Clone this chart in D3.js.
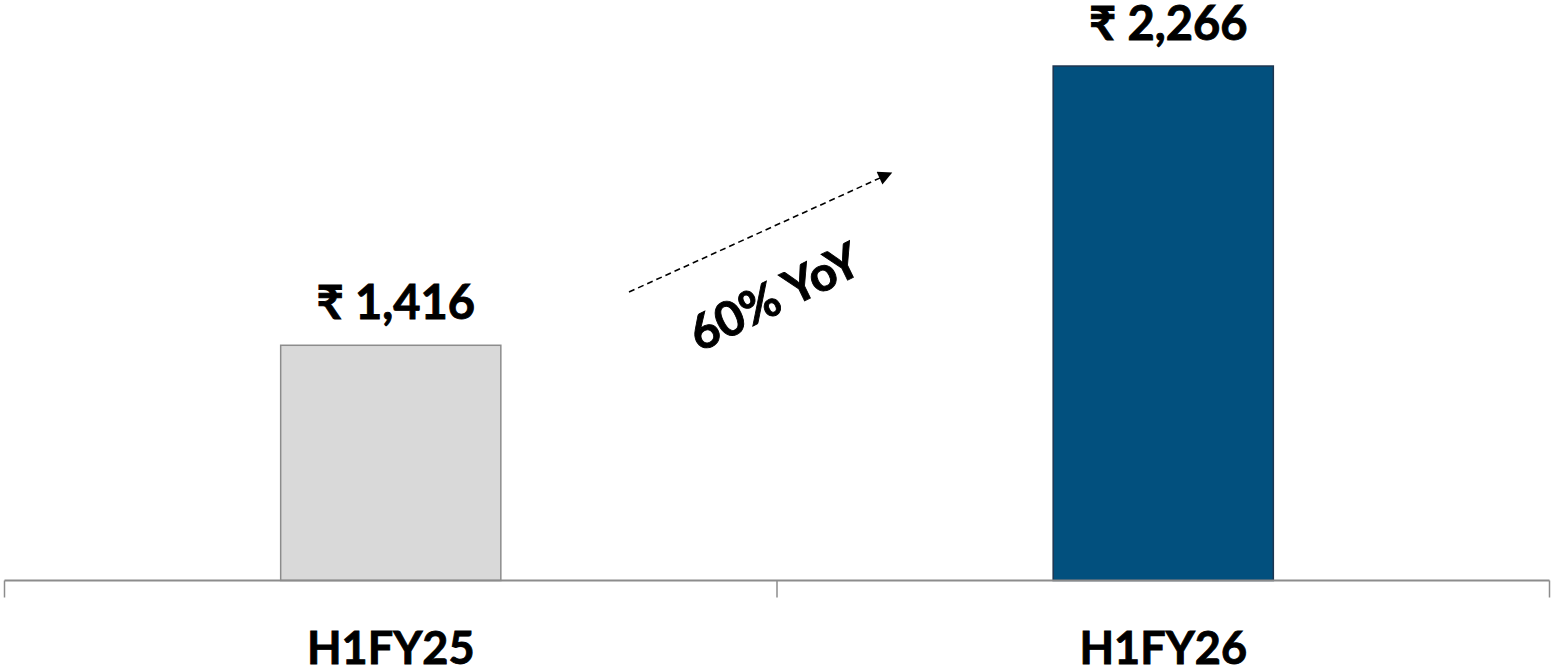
<!DOCTYPE html>
<html>
<head>
<meta charset="utf-8">
<script src="https://cdn.jsdelivr.net/npm/d3@7"></script>
<style>
  html, body { margin: 0; padding: 0; background: #fff; }
  svg text { font-family: Lato, "Noto Sans", "DejaVu Sans", sans-serif; font-weight: 700; fill: #000; stroke: #000; stroke-width: 0.9px; }
</style>
</head>
<body>
<svg id="chart" width="1555" height="671"></svg>
<script>
// Half-year revenue (₹ crore)
const categories = ["H1FY25", "H1FY26"];
const values = [1416, 2266];
const valueLabels = ["₹ 1,416", "₹ 2,266"];
const growthLabel = "60% YoY";

const fills = ["#d9d9d9", "#02507e"];
const strokes = ["#8c8c8c", "#1d3550"];

const svg = d3.select("#chart");
const baseY = 580.5;

const x = d3.scaleBand()
  .domain(categories)
  .range([4.5, 1549.5])
  .paddingInner(0.715)
  .paddingOuter(0.3575);

// The value axis does not start at zero
const y = d3.scaleLinear()
  .domain([700, 2400])
  .range([baseY, 22]);

// Bars
svg.selectAll("rect.bar")
  .data(values)
  .join("rect")
  .attr("class", "bar")
  .attr("x", (d, i) => x(categories[i]))
  .attr("y", d => y(d))
  .attr("width", x.bandwidth())
  .attr("height", d => baseY - y(d))
  .attr("fill", (d, i) => fills[i])
  .attr("stroke", (d, i) => strokes[i])
  .attr("stroke-width", 1.5);

// Category axis with boundary ticks
const boundaries = [0, 1, 2].map(k => 4.5 + k * (1545 / 2));
svg.append("line")
  .attr("x1", boundaries[0]).attr("x2", boundaries[2])
  .attr("y1", baseY).attr("y2", baseY)
  .attr("stroke", "#8c8c8c").attr("stroke-width", 2);
svg.selectAll("line.tick")
  .data(boundaries)
  .join("line")
  .attr("class", "tick")
  .attr("x1", d => d).attr("x2", d => d)
  .attr("y1", baseY).attr("y2", baseY + 17)
  .attr("stroke", "#8c8c8c").attr("stroke-width", 1.5);

svg.selectAll("text.cat")
  .data(categories)
  .join("text")
  .attr("class", "cat")
  .attr("x", d => x(d) + x.bandwidth() / 2)
  .attr("y", 664)
  .attr("text-anchor", "middle")
  .attr("font-size", 45)
  .text(d => d);

// Value labels above bars
svg.selectAll("text.val")
  .data(values)
  .join("text")
  .attr("class", "val")
  .attr("x", (d, i) => x(categories[i]) + x.bandwidth() / 2 + 5)
  .attr("y", d => y(d) - 26)
  .attr("text-anchor", "middle")
  .attr("font-size", 47)
  .text((d, i) => valueLabels[i]);

// Growth arrow between the bars
const defs = svg.append("defs");
defs.append("marker")
  .attr("id", "arrowhead")
  .attr("viewBox", "0 0 10 10")
  .attr("refX", 9).attr("refY", 5)
  .attr("markerWidth", 18).attr("markerHeight", 14)
  .attr("markerUnits", "userSpaceOnUse")
  .attr("orient", "auto")
  .append("path")
  .attr("d", "M0,0 L10,5 L0,10 Z")
  .attr("fill", "#000");

const ax1 = 629, ay1 = 292, ax2 = 891, ay2 = 173;
svg.append("line")
  .attr("x1", ax1).attr("y1", ay1)
  .attr("x2", ax2).attr("y2", ay2)
  .attr("stroke", "#000")
  .attr("stroke-width", 1.6)
  .attr("stroke-dasharray", "6,4")
  .attr("marker-end", "url(#arrowhead)");

const angle = Math.atan2(ay2 - ay1, ax2 - ax1) * 180 / Math.PI - 1.5;
svg.append("text")
  .attr("transform", `translate(782,312) rotate(${angle})`)
  .attr("text-anchor", "middle")
  .attr("font-size", 48)
  .text(growthLabel);
</script>
</body>
</html>
